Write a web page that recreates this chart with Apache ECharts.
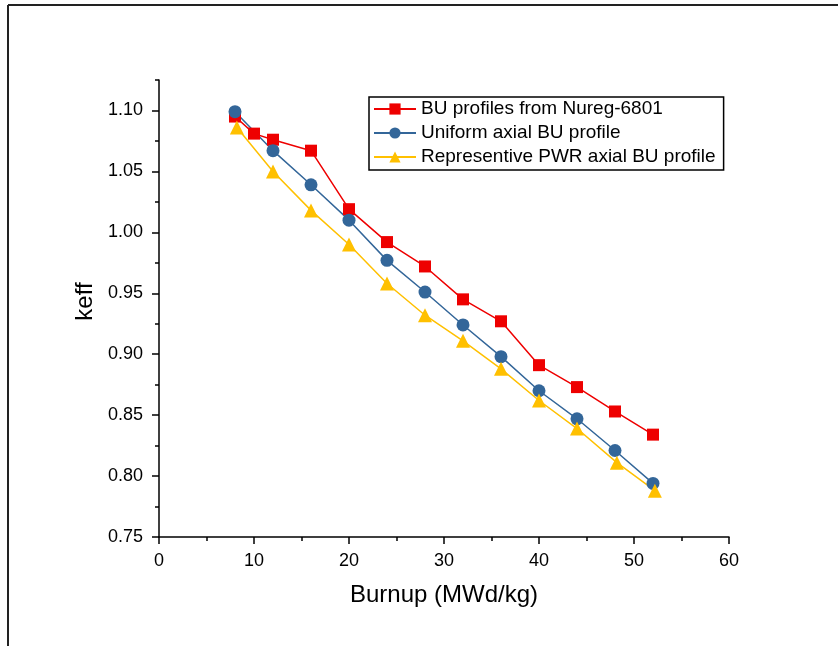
<!DOCTYPE html>
<html>
<head>
<meta charset="utf-8">
<script src="https://cdn.jsdelivr.net/npm/echarts@6/dist/echarts.min.js"></script>
<style>html,body{margin:0;padding:0;background:#fff;}#c{width:838px;height:646px;}</style>
</head>
<body>
<div id="c"></div>
<script>
const seriesNames = ['BU profiles from Nureg-6801', 'Uniform axial BU profile', 'Representive PWR axial BU profile'];
const redX = [8, 10, 12, 16, 20, 24, 28, 32, 36, 40, 44, 48, 52];
const redY = [1.095, 1.081, 1.076, 1.067, 1.019, 0.992, 0.972, 0.945, 0.927, 0.891, 0.873, 0.853, 0.834];
const blueX = [8, 12, 16, 20, 24, 28, 32, 36, 40, 44, 48, 52];
const blueY = [1.099, 1.067, 1.039, 1.010, 0.977, 0.951, 0.924, 0.898, 0.870, 0.847, 0.821, 0.794];
const yellowX = [8.2, 12, 16, 20, 24, 28, 32, 36, 40, 44, 48.2, 52.2];
const yellowY = [1.086, 1.050, 1.018, 0.990, 0.958, 0.932, 0.911, 0.888, 0.862, 0.839, 0.811, 0.788];
const yMajorTicks = [0.75, 0.80, 0.85, 0.90, 0.95, 1.00, 1.05, 1.10];

const zip = (xs, ys) => xs.map((x, i) => [x, ys[i]]);
const font = 'Liberation Sans, Arial, sans-serif';
const chart = echarts.init(document.getElementById('c'));
chart.setOption({
  animation: false,
  backgroundColor: '#fff',
  grid: { left: 159, right: 109, top: 80, bottom: 109 },
  xAxis: {
    type: 'value', min: 0, max: 60, interval: 10,
    name: 'Burnup (MWd/kg)', nameLocation: 'middle', nameGap: 46,
    nameTextStyle: { fontFamily: font, fontSize: 24, color: '#000' },
    axisLine: { lineStyle: { color: '#000', width: 1.5 } },
    axisTick: { length: 7, lineStyle: { color: '#000', width: 1.5 } },
    minorTick: { show: true, splitNumber: 2, length: 4, lineStyle: { color: '#000', width: 1.5 } },
    splitLine: { show: false },
    axisLabel: { fontFamily: font, fontSize: 18, color: '#000', margin: 15 }
  },
  yAxis: [{
    type: 'value', min: 0.75, max: 1.125,
    name: 'keff', nameLocation: 'middle', nameGap: 62,
    nameTextStyle: { fontFamily: font, fontSize: 24, color: '#000', padding: [0, 0, 0, 14] },
    axisLine: { lineStyle: { color: '#000', width: 1.5 } },
    axisTick: { length: 7, customValues: yMajorTicks, lineStyle: { color: '#000', width: 1.5 } },
    splitLine: { show: false },
    axisLabel: { fontFamily: font, fontSize: 18, color: '#000', margin: 16,
      customValues: yMajorTicks, formatter: v => v.toFixed(2) }
  }, {
    type: 'value', min: 0.75, max: 1.125, interval: 0.025, position: 'left',
    axisLine: { show: false },
    axisTick: { length: 4, lineStyle: { color: '#000', width: 1.5 } },
    axisLabel: { show: false },
    splitLine: { show: false }
  }],
  legend: {
    orient: 'vertical', left: 369, top: 97,
    itemWidth: 42, itemHeight: 14, itemGap: 0,
    padding: [0, 8, 1, 4],
    borderColor: '#000', borderWidth: 1.5,
    textStyle: { fontFamily: font, fontSize: 19, color: '#000', lineHeight: 24 },
    data: seriesNames
  },
  graphic: [
    { type: 'line', shape: { x1: 8, y1: 5, x2: 838, y2: 5 }, style: { stroke: '#222', lineWidth: 2 } },
    { type: 'line', shape: { x1: 8, y1: 5, x2: 8, y2: 646 }, style: { stroke: '#222', lineWidth: 2 } }
  ],
  series: [
    { name: seriesNames[0], type: 'line', data: zip(redX, redY), symbol: 'rect', symbolSize: 12,
      color: '#ee0000', lineStyle: { width: 1.5, color: '#ee0000' }, itemStyle: { color: '#ee0000' } },
    { name: seriesNames[1], type: 'line', data: zip(blueX, blueY), symbol: 'circle', symbolSize: 13,
      color: '#336699', lineStyle: { width: 1.5, color: '#336699' }, itemStyle: { color: '#336699' } },
    { name: seriesNames[2], type: 'line', data: zip(yellowX, yellowY), symbol: 'triangle', symbolSize: 14,
      color: '#ffc000', lineStyle: { width: 1.5, color: '#ffc000' }, itemStyle: { color: '#ffc000' } }
  ]
});
</script>
</body>
</html>
